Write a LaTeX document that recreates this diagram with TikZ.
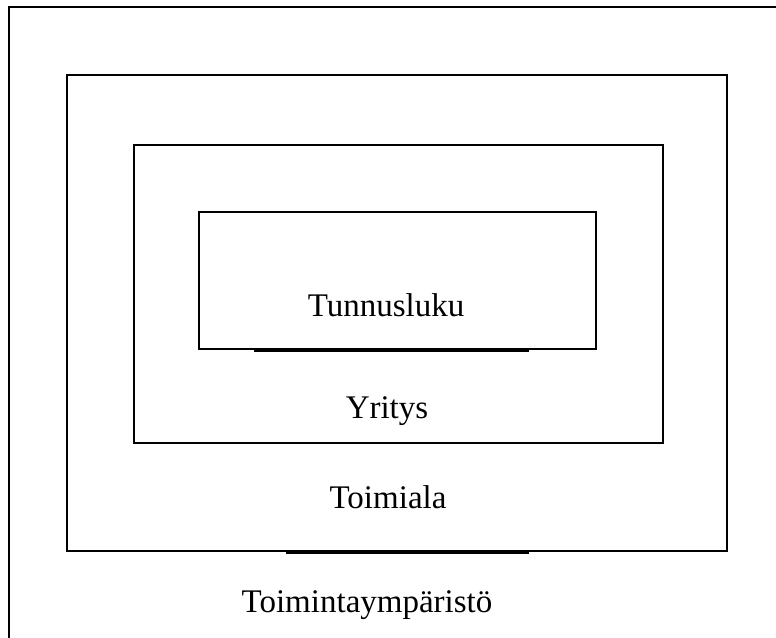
\documentclass[tikz,border=0pt]{standalone}
\usepackage{fontspec}
\setmainfont{Liberation Serif}
\begin{document}
\begin{tikzpicture}[x=1pt,y=-1pt,
  frame/.style={draw=black,line width=2.2pt,inner sep=0pt,fill=none},
  lbl/.style={font=\fontsize{33}{38}\selectfont,inner sep=0pt,anchor=base}]
\useasboundingbox (0,0) rectangle (776,637);
\fill[white] (0,0) rectangle (776,637);
% outer frame (extends beyond the picture)
\draw[line width=2.2pt] (9,660) -- (9,7) -- (800,7);
\node[frame,minimum width=660pt,minimum height=476pt] (toimiala) at (397,313) {};
\node[frame,minimum width=529pt,minimum height=298pt] (yritys) at (398.5,294) {};
\node[frame,minimum width=397pt,minimum height=137pt] (tunnus) at (397.5,280.5) {};
\draw[line width=3pt] ([xshift=-144pt]tunnus.south) -- ([xshift=131pt]tunnus.south);
\draw[line width=3pt] ([xshift=-111pt]toimiala.south) -- ([xshift=132pt]toimiala.south);
\node[lbl] (t1) at (386,316) {Tunnusluku};
\node[lbl] (t2) at (387,418) {Yritys};
\node[lbl] (t3) at (388,508) {Toimiala};
\node[lbl] (t4) at (367,612) {Toimintaympäristö};
\end{tikzpicture}
\end{document}
